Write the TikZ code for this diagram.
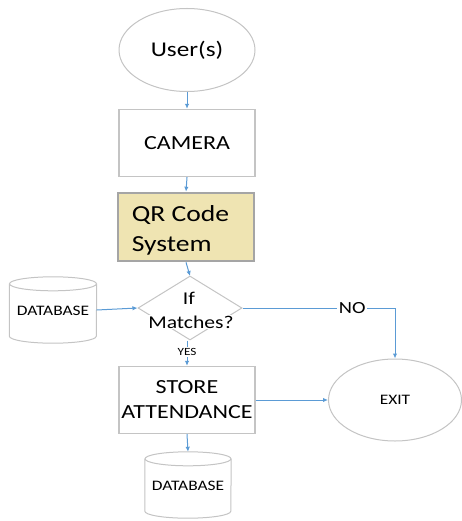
\documentclass[tikz,border=0pt]{standalone}
\usepackage{fontspec}
\setmainfont{Carlito}[FakeStretch=1.2]
\usetikzlibrary{shapes.geometric,arrows.meta,calc}
\definecolor{flow}{RGB}{91,155,213}
\definecolor{boxline}{RGB}{196,196,196}
\definecolor{qrfill}{RGB}{239,228,178}
\definecolor{qrline}{RGB}{165,165,165}
\tikzset{
  conn/.style={draw=flow, line width=1pt, -{Latex[length=5pt,width=4.5pt]}},
  procbox/.style={rectangle, draw=boxline, line width=1.4pt, fill=white, minimum width=136pt, minimum height=67pt, inner sep=2pt, align=center},
  terminal/.style={ellipse, draw=boxline, line width=1pt, fill=white, inner sep=0pt},
  cylline/.style={draw=boxline, line width=1pt},
  lbl/.style={fill=white, inner sep=1.5pt},
  dbfont/.style={font=\fontsize{14.5}{17}\selectfont},
}
% cylinder outline around a text-only node, #2 = half width
\newcommand{\dbshape}[2]{%
  \draw[cylline, fill=white] ($(#1.north west)+(0,-7pt)$) -- ($(#1.south west)+(0,7pt)$)
     arc[start angle=180, end angle=360, x radius=#2, y radius=7pt]
     -- ($(#1.north east)+(0,-7pt)$);
  \draw[cylline, fill=white] ($(#1.north)+(0,-7pt)$) ellipse [x radius=#2, y radius=7pt];
}
\begin{document}
\begin{tikzpicture}[x=1pt, y=-1pt]
\useasboundingbox (0,0) rectangle (461,521);

% start / end terminals
\node[terminal, minimum width=136pt, minimum height=83pt,
      font=\fontsize{21}{24}\selectfont] (user) at (187,50) {User(s)};
\node[terminal, minimum width=133pt, minimum height=82pt,
      font=\fontsize{14.5}{17}\selectfont] (exit) at (395,400) {EXIT};

% process steps
\node[procbox, font=\fontsize{20}{24}\selectfont] (cam) at (187,143) {CAMERA};
\node[procbox, draw=qrline, line width=2.6pt, fill=qrfill, minimum height=68pt] (qr) at (186,227) {};
\node[anchor=west, align=left, inner sep=0pt, font=\fontsize{23}{30}\selectfont]
  (qrtext) at ([xshift=15pt, yshift=-3pt]qr.west) {QR Code\\System};
\node[procbox, font=\fontsize{20}{25}\selectfont] (store) at (187,400) {STORE\\ATTENDANCE};

% decision
\node[diamond, draw=boxline, line width=1pt, minimum width=104pt, minimum height=64pt,
      inner sep=0pt] (dec) at (190,308) {};
\node[font=\fontsize{18}{20}\selectfont] (if) at (189,298) {If};
\node[fill=white, inner sep=1pt, font=\fontsize{18}{20}\selectfont] (match) at (191,322) {Matches?};

% databases
\node[minimum width=87pt, minimum height=66pt, inner sep=0pt] (db1) at (53,310) {};
\node[minimum width=86pt, minimum height=66pt, inner sep=0pt] (db2) at (188,485) {};
\dbshape{db1}{43.5pt}
\dbshape{db2}{43pt}
\node[dbfont] (db1text) at ([yshift=-0.5pt]db1.center) {DATABASE};
\node[dbfont] (db2text) at ([yshift=-0.5pt]db2.center) {DATABASE};

% connectors
\draw[conn] (user.south) -- (cam.north);
\draw[conn] (cam.south) -- (qr.north);
\draw[conn] (qr.south) -- ([yshift=-0.5pt]dec.north);
\draw[conn] (db1.east) -- (dec.west);
\draw[conn] (dec.south -| store.north) -- node[lbl, pos=0.45, font=\fontsize{11}{12}\selectfont] {YES} (store.north);
\coordinate (corner) at (exit.north |- dec.east);
\draw[conn] (dec.east) -- node[lbl, pos=0.72, font=\fontsize{17}{19}\selectfont] {NO} (corner) -- (exit.north);
\draw[conn] (store.east) -- (exit.west);
\draw[conn] (store.south) -- (db2.north);
\end{tikzpicture}
\end{document}
